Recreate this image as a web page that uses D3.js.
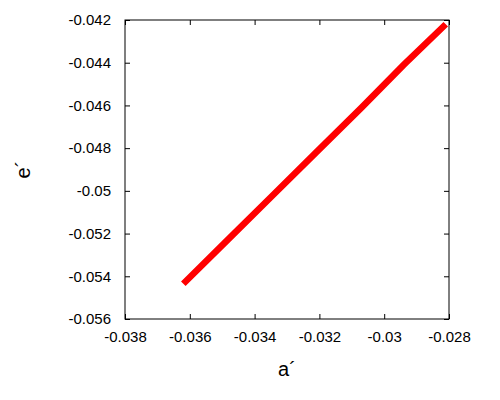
<!DOCTYPE html>
<html>
<head>
<meta charset="utf-8">
<script src="https://cdn.jsdelivr.net/npm/d3@7"></script>
<style>
  body { margin: 0; background: #fff; }
  text { font-family: "Liberation Sans", Arial, sans-serif; }
</style>
</head>
<body>
<div id="chart"></div>
<script>
var width = 500, height = 400;
var margin = {top: 20, right: 51, bottom: 81, left: 125};

// values
var aValues = [-0.0362, -0.0348, -0.0335, -0.0321, -0.0307, -0.0294, -0.0281];
var eValues = [-0.05435, -0.05225, -0.0503, -0.0482, -0.0461, -0.0441, -0.0422];
var xTicks = [-0.038, -0.036, -0.034, -0.032, -0.03, -0.028];
var yTicks = [-0.056, -0.054, -0.052, -0.05, -0.048, -0.046, -0.044, -0.042];

var w = width - margin.left - margin.right,
    h = height - margin.top - margin.bottom;

var svg = d3.select("#chart").append("svg")
  .attr("width", width)
  .attr("height", height);

var g = svg.append("g")
  .attr("transform", "translate(" + margin.left + "," + margin.top + ")");

var x = d3.scaleLinear().domain([-0.038, -0.028]).range([0, w]);
var y = d3.scaleLinear().domain([-0.056, -0.042]).range([h, 0]);

var fmt = function(d){ return String(+d.toFixed(3)); };

// inward ticks on all four sides
g.append("g").attr("transform", "translate(0," + h + ")")
  .call(d3.axisBottom(x).tickValues(xTicks).tickSize(-5).tickPadding(12).tickFormat(fmt));
g.append("g")
  .call(d3.axisTop(x).tickValues(xTicks).tickSize(-5).tickFormat(""));
g.append("g")
  .call(d3.axisLeft(y).tickValues(yTicks).tickSize(-5).tickPadding(14).tickFormat(fmt));
g.append("g").attr("transform", "translate(" + w + ",0)")
  .call(d3.axisRight(y).tickValues(yTicks).tickSize(-5).tickFormat(""));

g.selectAll(".domain").remove();
g.selectAll(".tick line").attr("stroke", "#000");
g.selectAll(".tick text").attr("font-size", 15).attr("fill", "#000")
  .attr("font-family", "Liberation Sans, Arial, sans-serif");

g.append("rect")
  .attr("width", w).attr("height", h)
  .attr("fill", "none").attr("stroke", "#000").attr("stroke-width", 1);

var pts = aValues.map(function(a, i){ return [a, eValues[i]]; });
g.append("path")
  .datum(pts)
  .attr("fill", "none")
  .attr("stroke", "#ff0000")
  .attr("stroke-width", 6.5)
  .attr("d", d3.line().x(function(d){ return x(d[0]); }).y(function(d){ return y(d[1]); }));

svg.append("text")
  .attr("x", margin.left + w / 2).attr("y", 376)
  .attr("text-anchor", "middle")
  .attr("font-size", 20)
  .text("a\u00b4");

svg.append("text")
  .attr("transform", "translate(30," + (margin.top + h / 2) + ") rotate(-90)")
  .attr("text-anchor", "middle")
  .attr("font-size", 20)
  .text("e\u00b4");
</script>
</body>
</html>
